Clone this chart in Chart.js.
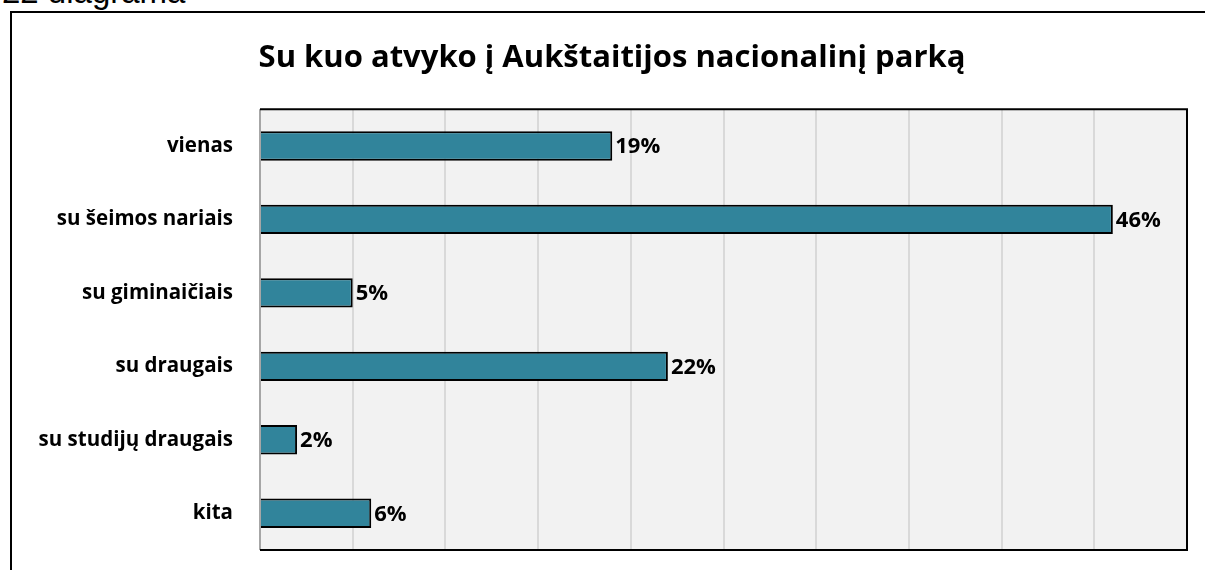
<!DOCTYPE html>
<html>
<head>
	<meta charset="utf-8">
	<title>Su kuo atvyko</title>
	<script src="https://cdn.jsdelivr.net/npm/chart.js@4/dist/chart.umd.min.js"></script>
	<style>
		body { margin: 0; width: 1205px; height: 570px; overflow: hidden; background: #fff; position: relative; }
		#caption { position: absolute; left: 2px; top: -27px; font: 33px "Liberation Sans", Arial, sans-serif; color: #000; white-space: nowrap; }
		#box { position: absolute; left: 10px; top: 11px; width: 1200px; height: 570px; border: 2px solid #000; border-bottom: none; }
		#wrap { position: absolute; left: 12px; top: 13px; width: 1193px; height: 557px; }
	</style>
</head>
<body>
	<div id="caption">22 diagrama</div>
	<div id="box"></div>
	<div id="wrap"><canvas id="mychart"></canvas></div>

	<script type="text/javascript">

		const categories = ['vienas', 'su šeimos nariais', 'su giminaičiais', 'su draugais', 'su studijų draugais', 'kita'];
		const shares = [19, 46, 5, 22, 2, 6];
		const chartTitle = 'Su kuo atvyko į Aukštaitijos nacionalinį parką';

		const fontFamily = '"Open Sans", "Noto Sans", sans-serif';
		const labelFont = 'bold 22px ' + fontFamily;

		// plot area background and frame like the spreadsheet one
		const plotFrame = {
			id: 'plotFrame',
			beforeDraw(chart) {
				const { ctx, chartArea: a } = chart;
				ctx.save();
				ctx.fillStyle = '#F2F2F2';
				ctx.fillRect(a.left, a.top, a.right - a.left, a.bottom - a.top);
				ctx.restore();
			},
			afterDraw(chart) {
				const { ctx, chartArea: a } = chart;
				ctx.save();
				ctx.lineWidth = 2;
				ctx.strokeStyle = '#A6A6A6';
				ctx.beginPath();
				ctx.moveTo(a.left, a.top);
				ctx.lineTo(a.left, a.bottom);
				ctx.stroke();
				ctx.strokeStyle = '#000';
				ctx.beginPath();
				ctx.moveTo(a.left, a.top);
				ctx.lineTo(a.right, a.top);
				ctx.lineTo(a.right, a.bottom);
				ctx.lineTo(a.left, a.bottom);
				ctx.stroke();
				ctx.restore();
			}
		};

		// percent labels at the end of each bar
		const barLabels = {
			id: 'barLabels',
			afterDatasetsDraw(chart) {
				const { ctx } = chart;
				const meta = chart.getDatasetMeta(0);
				ctx.save();
				ctx.font = labelFont;
				ctx.fillStyle = '#000';
				ctx.textAlign = 'left';
				ctx.textBaseline = 'middle';
				meta.data.forEach((bar, i) => {
					ctx.fillText(shares[i] + '%', bar.x + 3, bar.y + 1);
				});
				ctx.restore();
			}
		};

		const ctx = document.getElementById('mychart').getContext('2d');
		const myChart = new Chart(ctx, {
			type: 'bar',
			data: {
				labels: categories,
				datasets: [{
					data: shares,
					backgroundColor: '#31849B',
					borderColor: '#000',
					borderWidth: 2,
					borderSkipped: 'start',
					barPercentage: 0.4,
					categoryPercentage: 1
				}]
			},
			options: {
				indexAxis: 'y',
				responsive: true,
				maintainAspectRatio: false,
				animation: false,
				layout: { padding: { left: 25, right: 18, top: 0, bottom: 20 } },
				plugins: {
					legend: { display: false },
					tooltip: { enabled: false },
					title: {
						display: true,
						text: chartTitle,
						color: '#000',
						font: { family: fontFamily, size: 31, weight: 'bold', lineHeight: 1.2 },
						padding: { top: 27, bottom: 32 }
					}
				},
				scales: {
					x: {
						min: 0,
						max: 50,
						ticks: { display: false, stepSize: 5 },
						grid: { color: '#D9D9D9', lineWidth: 2, drawTicks: false },
						border: { display: false },
						afterFit(scale) { scale.height = 0; }
					},
					y: {
						ticks: {
							color: '#000',
							font: { family: fontFamily, size: 20.5, weight: 'bold' },
							padding: 27
						},
						grid: { display: false, drawTicks: false },
						border: { display: false },
						afterFit(scale) {
							scale.width = 223;
							scale.paddingTop = 0;
							scale.paddingBottom = 0;
						}
					}
				}
			},
			plugins: [plotFrame, barLabels]
		});

	</script>
</body>
</html>
